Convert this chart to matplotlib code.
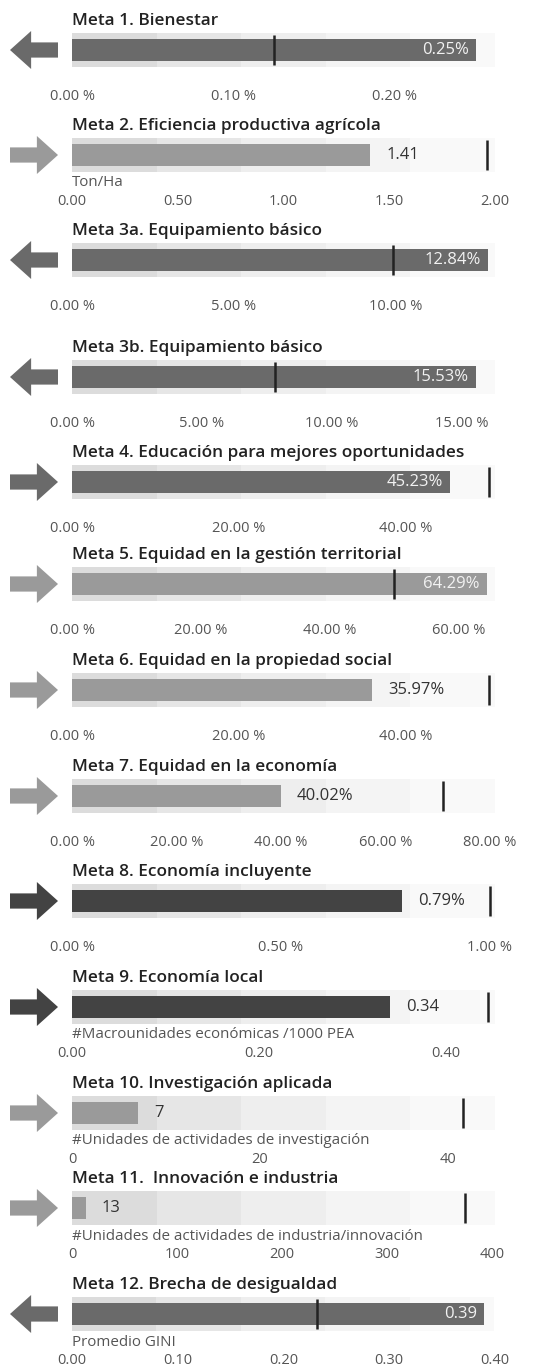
import numpy as np
import matplotlib.pyplot as plt
from matplotlib.patches import FancyArrow

plt.rcParams['font.family'] = ['Open Sans', 'DejaVu Sans']

# --- Data ---
titles = [
    "Meta 1. Bienestar",
    "Meta 2. Eficiencia productiva agrícola",
    "Meta 3a. Equipamiento básico",
    "Meta 3b. Equipamiento básico",
    "Meta 4. Educación para mejores oportunidades",
    "Meta 5. Equidad en la gestión territorial",
    "Meta 6. Equidad en la propiedad social",
    "Meta 7. Equidad en la economía",
    "Meta 8. Economía incluyente",
    "Meta 9. Economía local",
    "Meta 10. Investigación aplicada",
    "Meta 11.  Innovación e industria",
    "Meta 12. Brecha de desigualdad",
]
values = [0.25, 1.41, 12.84, 15.53, 45.23, 64.29, 35.97, 40.02, 0.79, 0.34, 7, 13, 0.39]
value_labels = ["0.25%", "1.41", "12.84%", "15.53%", "45.23%", "64.29%", "35.97%",
                "40.02%", "0.79%", "0.34", "7", "13", "0.39"]
targets = [0.125, 1.96, 9.9, 7.8, 50, 50, 50, 71, 1.0, 0.445, 41.6, 374, 0.232]
axis_max = [0.262, 2.0, 13.06, 16.27, 50.66, 65.6, 50.66, 81.0, 1.012, 0.4524, 45.0, 403, 0.399]
ticks = [
    [0, 0.1, 0.2],
    [0, 0.5, 1.0, 1.5, 2.0],
    [0, 5, 10],
    [0, 5, 10, 15],
    [0, 20, 40],
    [0, 20, 40, 60],
    [0, 20, 40],
    [0, 20, 40, 60, 80],
    [0, 0.5, 1.0],
    [0, 0.2, 0.4],
    [0, 20, 40],
    [0, 100, 200, 300, 400],
    [0, 0.1, 0.2, 0.3, 0.4],
]
tick_labels = [
    ["0.00 %", "0.10 %", "0.20 %"],
    ["0.00", "0.50", "1.00", "1.50", "2.00"],
    ["0.00 %", "5.00 %", "10.00 %"],
    ["0.00 %", "5.00 %", "10.00 %", "15.00 %"],
    ["0.00 %", "20.00 %", "40.00 %"],
    ["0.00 %", "20.00 %", "40.00 %", "60.00 %"],
    ["0.00 %", "20.00 %", "40.00 %"],
    ["0.00 %", "20.00 %", "40.00 %", "60.00 %", "80.00 %"],
    ["0.00 %", "0.50 %", "1.00 %"],
    ["0.00", "0.20", "0.40"],
    ["0", "20", "40"],
    ["0", "100", "200", "300", "400"],
    ["0.00", "0.10", "0.20", "0.30", "0.40"],
]
units = ["", "Ton/Ha", "", "", "", "", "", "", "",
         "#Macrounidades económicas /1000 PEA",
         "#Unidades de actividades de investigación",
         "#Unidades de actividades de industria/innovación",
         "Promedio GINI"]
directions = [-1, 1, -1, -1, 1, 1, 1, 1, 1, 1, 1, 1, -1]
shades = ["mid", "light", "mid", "mid", "mid", "light", "light", "light",
          "dark", "dark", "light", "light", "mid"]
label_inside = [True, False, True, True, True, True, False, False,
                False, False, False, False, True]

# --- Style / layout ---
W, H = 536, 1368
SHADE_COL = {"dark": "#434343", "mid": "#6a6a6a", "light": "#9a9a9a"}
BAND_COL = ["#dcdcdc", "#e6e6e6", "#eeeeee", "#f4f4f4", "#f9f9f9"]
centers = [50, 155, 260, 377, 482, 584, 690, 796, 901, 1007, 1113, 1208, 1314]
AX_L, AX_R = 72, 495
AX_H = 40  # px, 1 data unit in y

fig = plt.figure(figsize=(W / 100, H / 100), dpi=100)

for i in range(len(titles)):
    cy = centers[i]
    ax = fig.add_axes([AX_L / W, 1 - (cy + AX_H / 2) / H, (AX_R - AX_L) / W, AX_H / H])
    xmax = axis_max[i]

    # background bands (fifths of the axis)
    edges = np.linspace(0, xmax, 6)
    ax.barh(0, np.diff(edges), left=edges[:-1], height=0.85, color=BAND_COL, linewidth=0)

    col = SHADE_COL[shades[i]]
    ax.barh(0, values[i], height=0.55, color=col, linewidth=0)
    ax.plot([targets[i], targets[i]], [-0.37, 0.37], color="#222222", lw=1.8,
            solid_capstyle="butt")

    px = xmax / (AX_R - AX_L)  # data units per pixel
    if label_inside[i]:
        ax.text(values[i] - 7 * px, 0, value_labels[i], ha="right", va="center",
                fontsize=12, color="#f2f2f2")
    else:
        ax.text(values[i] + 16 * px, 0, value_labels[i], ha="left", va="center",
                fontsize=12, color="#333333")

    ax.set_xlim(0, xmax)
    ax.set_ylim(-0.5, 0.5)
    ax.set_xticks(ticks[i])
    ax.set_xticklabels(tick_labels[i])
    ax.tick_params(axis="x", length=0, pad=13.5, labelsize=10.5, labelcolor="#555555")
    ax.set_yticks([])
    for s in ax.spines.values():
        s.set_visible(False)

    ax.text(0, 0.5 + 29 / AX_H, titles[i], transform=ax.transAxes, ha="left",
            va="center", fontsize=12.4, fontweight="semibold", color="#222222")
    if units[i]:
        ax.text(0, 0.5 - 28 / AX_H, units[i], transform=ax.transAxes, ha="left",
                va="center", fontsize=10.9, color="#555555")

    # direction arrow
    aax = fig.add_axes([10 / W, 1 - (cy + AX_H / 2) / H, 48 / W, AX_H / H])
    aax.set_xlim(0, 1)
    aax.set_ylim(-0.5, 0.5)
    aax.axis("off")
    start = 0.0 if directions[i] > 0 else 1.0
    aax.add_patch(FancyArrow(start, 0, directions[i] * 1.0, 0, width=0.38,
                             head_width=0.95, head_length=0.44,
                             length_includes_head=True, color=col, linewidth=0))

fig.savefig("out.png", dpi=100, facecolor="white")
